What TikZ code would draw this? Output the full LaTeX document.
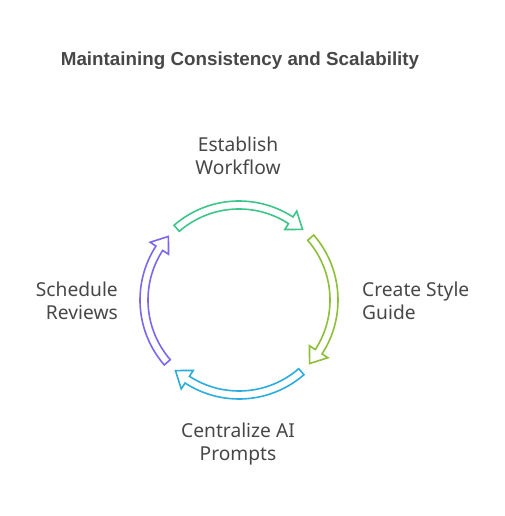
\documentclass[tikz,border=0pt]{standalone}
\usepackage{fontspec}
\setmainfont{Noto Sans}
\newfontfamily\titlefont{Liberation Sans}
\definecolor{txt}{HTML}{474747}
\definecolor{cgreen}{HTML}{3CC68A}
\definecolor{clime}{HTML}{8DBF3A}
\definecolor{cblue}{HTML}{2BAEDD}
\definecolor{cpurple}{HTML}{7B68EE}
\tikzset{
  lbl/.style={text=txt, font=\fontsize{19.2}{23}\selectfont, inner sep=0pt, align=center},
  ttl/.style={text=txt, font=\titlefont\fontsize{18.8}{22}\selectfont\bfseries, inner sep=0pt},
  arrowshape/.style={line width=1.6pt, fill=white, line join=miter}
}
\newcommand{\cyclearrow}[2]{%
  \pgfmathsetmacro{\sa}{#1+41}%
  \pgfmathsetmacro{\ha}{#1-33}%
  \pgfmathsetmacro{\ta}{#1-42}%
  \draw[arrowshape, draw=#2, shift={(239,216)}]
    (\sa:99) arc[start angle=\sa, end angle=\ha, radius=99]
    -- (\ha:106) -- (\ta:95) -- (\ha:84) -- (\ha:91)
    arc[start angle=\ha, end angle=\sa, radius=91] -- cycle;%
}
\begin{document}
\begin{tikzpicture}[x=1pt,y=1pt]
\useasboundingbox (0,0) rectangle (504,516);
\node[ttl] (title) at (240,455) {Maintaining Consistency and Scalability};
\node[lbl] (est) at (238,360) {Establish\\Workflow};
\node[lbl, anchor=west, align=left] (csg) at (362,215) {Create Style\\Guide};
\node[lbl] (cai) at (238,72) {Centralize AI\\Prompts};
\node[lbl, anchor=east, align=right] (sr) at (118,215) {Schedule\\Reviews};
\cyclearrow{90}{cgreen}
\cyclearrow{0}{clime}
\cyclearrow{-90}{cblue}
\cyclearrow{180}{cpurple}
\end{tikzpicture}
\end{document}
